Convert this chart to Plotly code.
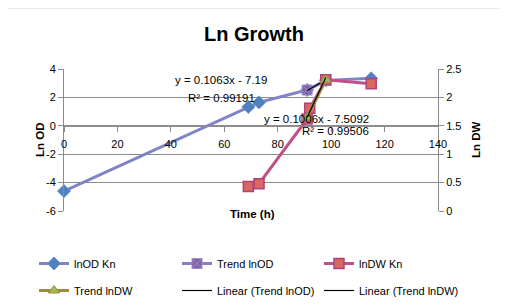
import plotly.graph_objects as go

# ---- data ----
t_od = [0, 69, 73, 91, 98, 115]
ln_od = [-4.6, 1.33, 1.65, 2.52, 3.2, 3.34]

t_trend_od = [91, 98]
trend_od = [2.52, 3.2]

t_dw = [69, 73, 91, 92, 98, 115]
ln_dw = [0.43, 0.48, 1.62, 1.81, 2.31, 2.24]

t_trend_dw = [91, 98]
trend_dw = [1.645, 2.31]

fit_od = (0.1063, -7.19)
fit_dw = (0.1006, -7.5092)
fit_x = [91, 98]

x_ticks = [0, 20, 40, 60, 80, 100, 120, 140]
y_ticks = [-6, -4, -2, 0, 2, 4]
y_labels = ["-6", "-4", "-2", "0", "2", "4"]
y2_ticks = [0, 0.5, 1, 1.5, 2, 2.5]
y2_labels = ["0", "0.5", "1", "1.5", "2", "2.5"]

FONT = "Liberation Sans"
GRID = "#8c8c8c"

OFF = 8  # page body margin
W, H = 507 - OFF, 308 - OFF
PL, PR, PT, PB = 64, 438, 69, 211  # plot area in reference pixels


def px_x(px):
    return (px - PL) / (PR - PL)


def px_y(py):
    return (PB - py) / (PB - PT)


fig = go.Figure()

fig.add_trace(go.Scatter(
    x=t_od, y=ln_od, name="lnOD Kn", mode="lines+markers", cliponaxis=False,
    line=dict(color="#7f84c6", width=3),
    marker=dict(symbol="diamond", size=10, color="#4f81bd", line=dict(color="#6a8fd0", width=1)),
    legend="legend", legendgroup="a"))
fig.add_trace(go.Scatter(
    x=t_trend_od, y=trend_od, name="Trend lnOD", mode="lines+markers", cliponaxis=False,
    line=dict(color="#8a7fc2", width=3),
    marker=dict(symbol="square-x", size=10, color="#8064a2", line=dict(color="#a08ad0", width=1)),
    legend="legend2", legendgroup="b"))
fig.add_trace(go.Scatter(
    x=t_dw, y=ln_dw, name="lnDW Kn", mode="lines+markers", yaxis="y2", cliponaxis=False,
    line=dict(color="#c0508a", width=3),
    marker=dict(symbol="square", size=10, color="#d9695e", line=dict(color="#b0407f", width=1.5)),
    legend="legend3", legendgroup="c"))
fig.add_trace(go.Scatter(
    x=t_trend_dw, y=trend_dw, name="Trend lnDW", mode="lines+markers", yaxis="y2",
    cliponaxis=False,
    line=dict(color="#a08a40", width=3),
    marker=dict(symbol="triangle-up", size=10, color="#9bbb59", line=dict(color="#a08a40", width=1)),
    legend="legend", legendgroup="d"))
fig.add_trace(go.Scatter(
    x=fit_x, y=[fit_od[0] * x + fit_od[1] for x in fit_x], name="Linear (Trend lnOD)",
    mode="lines", line=dict(color="black", width=1.2), legend="legend2", legendgroup="e"))
fig.add_trace(go.Scatter(
    x=fit_x, y=[fit_dw[0] * x + fit_dw[1] for x in fit_x], name="Linear (Trend lnDW)",
    mode="lines", yaxis="y2", line=dict(color="black", width=1.2), legend="legend3",
    legendgroup="f"))

legend_common = dict(orientation="v", xanchor="left", yanchor="top",
                     font=dict(family=FONT, size=11, color="black"),
                     bgcolor="rgba(0,0,0,0)", itemwidth=30, itemclick=False,
                     tracegroupgap=8, y=px_y(249))

fig.update_layout(
    width=W, height=H,
    margin=dict(l=PL - OFF, r=W - (PR - OFF), t=PT - OFF, b=H - (PB - OFF), autoexpand=False),
    paper_bgcolor="white", plot_bgcolor="white",
    font=dict(family=FONT, size=11, color="black"),
    title=dict(text="<b>Ln Growth</b>", x=px_x(254), xanchor="center", xref="paper",
               y=1 - (34 - OFF) / H, yanchor="middle",
               font=dict(family=FONT, size=20, color="black")),
    xaxis=dict(range=[0, 140], tickvals=x_ticks, showgrid=False, zeroline=False,
               anchor="free", position=0.6, showline=True, linecolor=GRID, linewidth=1,
               ticks="outside", ticklen=5, tickcolor=GRID, ticklabelstandoff=3,
               tickfont=dict(family=FONT, size=11, color="black")),
    yaxis=dict(range=[-6, 4], tickvals=y_ticks, ticktext=y_labels, showgrid=True,
               gridcolor=GRID, gridwidth=1, zeroline=False, showline=True, linecolor=GRID,
               ticks="outside", ticklen=5, tickcolor=GRID,
               tickfont=dict(family=FONT, size=11, color="black")),
    yaxis2=dict(range=[0, 2.5], tickvals=y2_ticks, ticktext=y2_labels, overlaying="y",
                side="right", showgrid=False, zeroline=False, showline=True, linecolor=GRID,
                ticks="outside", ticklen=5, tickcolor=GRID,
                tickfont=dict(family=FONT, size=11, color="black")),
    legend=dict(x=px_x(34), **legend_common),
    legend2=dict(x=px_x(177), **legend_common),
    legend3=dict(x=px_x(319), **legend_common),
    showlegend=True,
)

ann_font = dict(family=FONT, size=11.5, color="black")
fig.add_annotation(text="y = 0.1063x - 7.19", x=px_x(221), y=px_y(72.5),
                   xref="paper", yref="paper", showarrow=False, font=ann_font, borderpad=0)
fig.add_annotation(text="R² = 0.99191", x=px_x(221), y=px_y(90.5),
                   xref="paper", yref="paper", showarrow=False, font=ann_font, borderpad=0)
fig.add_annotation(text="y = 0.1006x - 7.5092", x=px_x(370), y=px_y(111.5),
                   xref="paper", yref="paper", showarrow=False, font=ann_font, borderpad=0)
fig.add_annotation(text="R² = 0.99506", x=px_x(370), y=px_y(130.5),
                   xref="paper", yref="paper", showarrow=False, font=ann_font, borderpad=0)
# axis titles
fig.add_annotation(text="<b>Time (h)</b>", x=px_x(252), y=px_y(222),
                   xref="paper", yref="paper", showarrow=False, font=ann_font)
fig.add_annotation(text="<b>Ln OD</b>", x=px_x(32), y=px_y(140), textangle=-90,
                   xref="paper", yref="paper", showarrow=False, font=ann_font)
fig.add_annotation(text="<b>Ln DW</b>", x=px_x(484), y=px_y(140), textangle=-90,
                   xref="paper", yref="paper", showarrow=False, font=ann_font)

# chart border
fig.add_shape(type="rect", xref="paper", yref="paper",
              x0=px_x(1.5), x1=px_x(530),
              y0=px_y(330), y1=px_y(7.5),
              line=dict(color="#a6a6a6", width=1.5), fillcolor="rgba(0,0,0,0)", layer="below")

fig.write_html("out.html")
